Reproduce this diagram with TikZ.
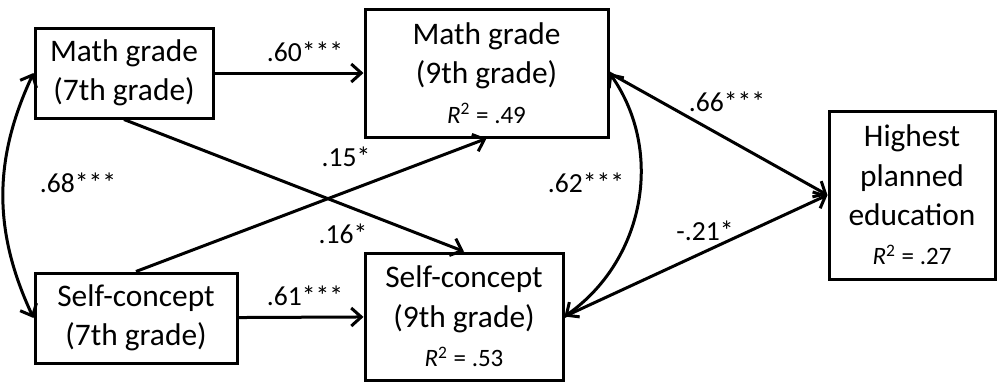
\documentclass[tikz,border=0pt]{standalone}
\usepackage{fontspec}
\setmainfont{Carlito}
\usetikzlibrary{arrows.meta}

\newcommand{\rsq}[1]{{\fontsize{12.5}{15}\selectfont\textit{R}\textsuperscript{2} = #1}}

\begin{document}
\begin{tikzpicture}[x=0.5pt, y=0.5pt, line width=1.5pt,
    >={Straight Barb[length=5pt, width=9pt]},
    var/.style={draw, inner sep=0pt, align=center, font=\fontsize{15.7}{19.7}\selectfont},
    coef/.style={inner sep=0pt, font=\fontsize{13.8}{16}\selectfont}]
    \useasboundingbox (0, 0) rectangle (997, -381);

    % variables
    \node[var, minimum width=89pt, minimum height=45pt] (m7) at (124, -73) {Math grade\\(7th grade)};
    \node[var, minimum width=101pt, minimum height=45pt] (s7) at (136, -318) {Self-concept\\(7th grade)};
    \node[var, minimum width=121.5pt, minimum height=64pt] (m9) at (486.5, -73) {Math grade\\(9th grade)\\\rsq{.49}};
    \node[var, minimum width=99pt, minimum height=63.5pt] (s9) at (464, -316.5) {Self-concept\\(9th grade)\\\rsq{.53}};
    \node[var, minimum width=83pt, minimum height=84pt] (hi) at (912, -195) {Highest\\planned\\education\\\rsq{.27}};

    % paths
    \draw[->] (m7) -- (m9);
    \draw[->] (s7) -- (s9);
    \draw[->] (m7.south) -- (s9.north);
    \draw[->] (s7.north) -- (m9.south);
    \draw[->] (m9.east) -- (hi.west);
    \draw[->] (s9.east) -- (hi.west);

    % correlations
    \draw[<->] (m7.west) to[out=245, in=115] (s7.west);
    \draw[<->] (m9.east) to[out=-55, in=35] (s9.east);

    % coefficients
    \node[coef] (c60) at (305, -52) {.60***};
    \node[coef] (c61) at (305, -296) {.61***};
    \node[coef] (c15) at (346, -157) {.15*};
    \node[coef] (c16) at (343, -234) {.16*};
    \node[coef] (c68) at (78, -183) {.68***};
    \node[coef] (c62) at (586, -183) {.62***};
    \node[coef] (c66) at (727, -102) {.66***};
    \node[coef] (c21) at (705, -231) {-.21*};
\end{tikzpicture}
\end{document}
